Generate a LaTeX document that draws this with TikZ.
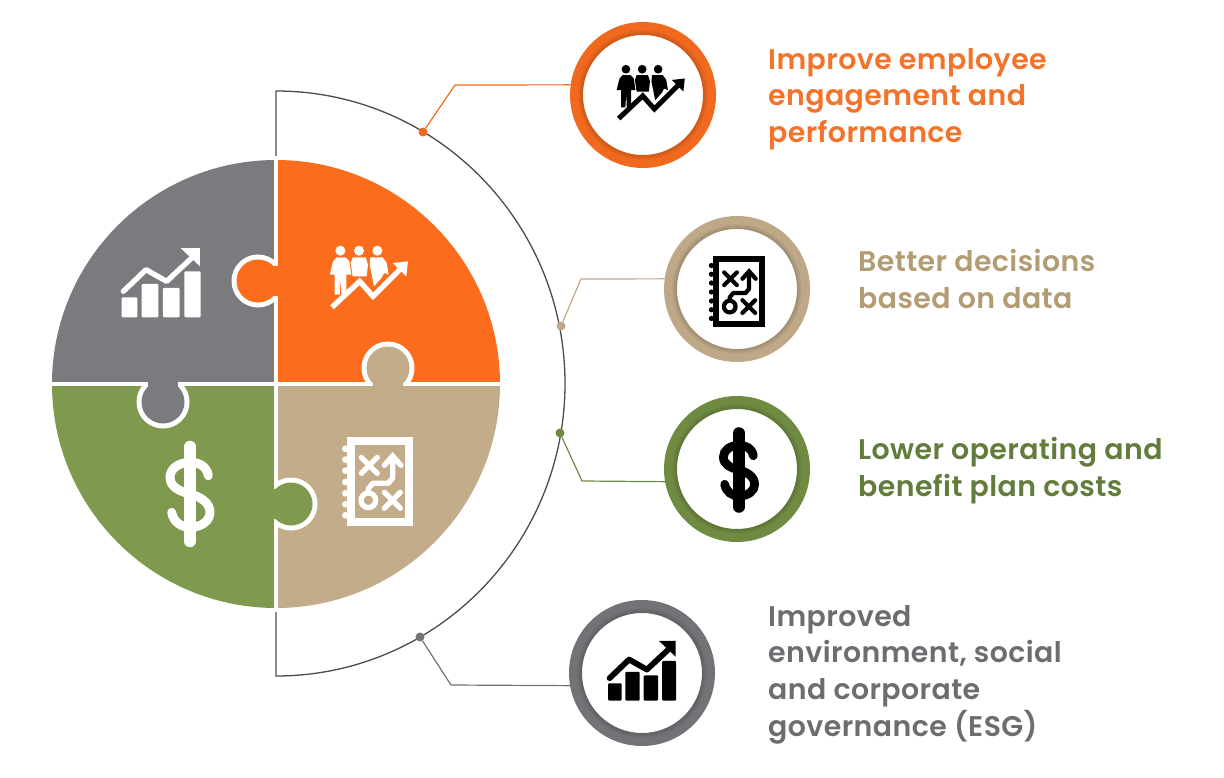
\documentclass[tikz,border=0pt]{standalone}
\usepackage{fontspec}
\setmainfont{Poppins}[LetterSpace=1.5,BoldFont={Poppins SemiBold}]
\usetikzlibrary{positioning}

\definecolor{pieceorange}{HTML}{FB6D1D}
\definecolor{piecetan}{HTML}{C3AC8A}
\definecolor{piecegreen}{HTML}{7F9A4E}
\definecolor{piecegrey}{HTML}{7A7B7F}
\definecolor{ringorange}{HTML}{F1691F}
\definecolor{ringtan}{HTML}{BEA888}
\definecolor{ringgreen}{HTML}{6F8B42}
\definecolor{ringgrey}{HTML}{727376}
\definecolor{textorange}{HTML}{F4732A}
\definecolor{texttan}{HTML}{B29C74}
\definecolor{textgreen}{HTML}{627C3C}
\definecolor{textgrey}{HTML}{6C6D70}

\tikzset{
  ring/.style={circle,draw=#1,fill=white,line width=13pt,inner sep=0pt,minimum size=133pt},
  dot/.style={circle,fill=#1,inner sep=0pt,minimum size=9pt},
  link/.style={line width=1.2pt,line join=round},
  bigicon/.style={x=0.333pt,y=-0.333pt,line width=5.3pt,color=white},
  ringicon/.style={x=#1pt,y=-#1pt,line width=20*#1pt,color=black},
  goal/.style={anchor=north west,align=left,inner sep=0pt,font=\fontsize{28.4}{36.6}\selectfont\bfseries,text=#1},
  pics/chart/.style={code={
    \fill[rounded corners=1pt] (-118,43) rectangle (-71,103);
    \fill[rounded corners=1pt] (-58,3) rectangle (-8,103);
    \fill[rounded corners=1pt] (6,15) rectangle (56,103);
    \fill[rounded corners=1pt] (70,-35) rectangle (119,103);
    \draw[line cap=round,line join=round] (-113,25) -- (-45,-40) -- (17,-5) -- (92,-75);
    \fill (59,-105) -- (117,-105) -- (117,-50) -- cycle;
  }},
  pics/people/.style={code={
    \fill (-83,-82) circle[radius=15];
    \fill (-27,-82) circle[radius=15];
    \fill (28,-82) circle[radius=15];
    \fill (-94,-62) -- (-68,-62) -- (-56,-50) -- (-50,-10) -- (-65,-10) -- (-65,50) -- (-80,50) -- (-82,0)
      -- (-85,50) -- (-100,50) -- (-100,-10) -- (-115,-10) -- (-105,-50) -- cycle;
    \fill (-46,-62) -- (-7,-62) -- (0,-40) -- (-4,-5) -- (-46,-5) -- (-52,-45) -- cycle;
    \fill (7,-62) -- (44,-62) -- (56,-45) -- (62,-10) -- (48,-15) -- (42,-2) -- (18,25) -- (12,-5) -- (5,-40) -- cycle;
    \draw[line cap=butt,line join=miter] (-108,88) -- (-25,10) -- (15,55) -- (100,-30);
    \fill (75,-45) -- (120,-50) -- (115,-5) -- cycle;
  }},
  pics/planmap/.style={code={
    \draw[line width=1.2\pgflinewidth] (-88,-123) rectangle (88,121);
    \foreach \y in {-100,-67,-34,0,34,67,100}
      \fill (-104,\y) circle[radius=10];
    \draw[line cap=round] (-56,-74) -- (-8,-26) (-8,-74) -- (-56,-26);
    \draw[line cap=round] (13,31) -- (61,79) (61,31) -- (13,79);
    \draw (-35,55) circle[radius=22];
    \draw[line join=round] (-35,33) -- (-35,20) -- (-22,4) -- (25,4) -- (38,-12) -- (38,-75);
    \draw[line cap=round,line join=miter] (13,-50) -- (38,-78) -- (63,-50);
  }},
  pics/dollarsign/.style={code={
    \draw[line width=1.3\pgflinewidth,line cap=round] (55,-55) .. controls (50,-85) and (25,-95) .. (0,-95)
      .. controls (-35,-95) and (-60,-75) .. (-60,-50) .. controls (-60,-20) and (-30,-8) .. (0,0)
      .. controls (30,8) and (60,25) .. (60,55) .. controls (60,80) and (35,100) .. (0,100)
      .. controls (-25,100) and (-50,85) .. (-55,55);
    \draw[line width=1.5\pgflinewidth,line cap=round] (0,-142) -- (0,142);
  }},
}

\begin{document}
\begin{tikzpicture}[x=1pt,y=-1pt]
  \useasboundingbox (0,0) rectangle (1224,778);

  % half round behind the puzzle
  \draw[line width=1.3pt,black!70] (276,91) arc[start angle=90,end angle=-90,x radius=289pt,y radius=292.5pt] -- cycle;
  \fill[white] (276,384) circle[radius=228pt];

  % puzzle
  \begin{scope}
    \clip (276,384) circle[radius=224pt];
    \fill[piecegrey] (276,384) rectangle (40,150);
    \fill[pieceorange] (276,384) rectangle (510,150);
    \fill[piecegreen] (276,384) rectangle (40,620);
    \fill[piecetan] (276,384) rectangle (510,620);
    \draw[white,line width=4.5pt] (276,150) -- (276,620) (40,384) -- (510,384);
  \end{scope}

  % tabs, the white edge stays on the host piece
  \begin{scope}
    \clip (200,230) rectangle (277,330);
    \fill[white] (258,281) circle[radius=26.5pt];
  \end{scope}
  \fill[pieceorange] (258,281) circle[radius=21.5pt];
  \fill[pieceorange] (258,266) rectangle (280,296);

  \begin{scope}
    \clip (340,320) rectangle (440,385);
    \fill[white] (388,368) circle[radius=26.5pt];
  \end{scope}
  \fill[piecetan] (388,368) circle[radius=21.5pt];
  \fill[piecetan] (373,368) rectangle (403,388);

  \begin{scope}
    \clip (110,383) rectangle (215,450);
    \fill[white] (163,402) circle[radius=26.5pt];
  \end{scope}
  \fill[piecegrey] (163,402) circle[radius=21.5pt];
  \fill[piecegrey] (148,380) rectangle (178,402);

  \begin{scope}
    \clip (275,450) rectangle (340,560);
    \fill[white] (291,504) circle[radius=26.5pt];
  \end{scope}
  \fill[piecegreen] (291,504) circle[radius=21.5pt];
  \fill[piecegreen] (272,489) rectangle (291,519);

  \coordinate (spotchart) at (161,283);
  \coordinate (spotpeople) at (368,278);
  \coordinate (spotplan) at (380,482);
  \coordinate (spotdollar) at (190,494);
  \pic[bigicon] at (spotchart) {chart};
  \pic[bigicon] at (spotpeople) {people};
  \pic[bigicon] at (spotplan) {planmap};
  \pic[bigicon] at (spotdollar) {dollarsign};

  % rings
  \node[ring=ringorange] (ringa) at (643,95) {};
  \node[ring=ringtan] (ringb) at (737,289) {};
  \node[ring=ringgreen] (ringc) at (737,469) {};
  \node[ring=ringgrey] (ringd) at (642,673) {};

  \foreach \n/\c in {ringa/ringorange,ringb/ringtan,ringc/ringgreen,ringd/ringgrey}
    \foreach \r/\o in {61/0.4,62.5/0.25,64/0.12}
      \draw[\c!65!black,opacity=\o,line width=1.5pt] (\n) circle[radius=\r pt];

  \pic[ringicon=0.29,line width=5pt,xshift=7pt,yshift=2pt] at (ringa) {people};
  \pic[ringicon=0.265,line width=4.2pt,xshift=2pt,yshift=-3pt] at (ringb) {planmap};
  \pic[ringicon=0.26,xshift=2pt,yshift=-1pt] at (ringc) {dollarsign};
  \pic[ringicon=0.287,yshift=2pt] at (ringd) {chart};

  % links
  \node[dot=ringorange] (dota) at (423,132) {};
  \node[dot=ringtan] (dotb) at (561,326) {};
  \node[dot=ringgreen] (dotc) at (560,433) {};
  \node[dot=ringgrey] (dotd) at (420,637) {};
  \coordinate (benda) at (455,85);
  \coordinate (bendb) at (581,279);
  \coordinate (bendc) at (582,481);
  \coordinate (bendd) at (451,685);

  \draw[link,ringorange] (dota) -- (benda) -- (ringa.172);
  \draw[link,ringtan] (dotb) -- (bendb) -- (ringb.172);
  \draw[link,ringgreen] (dotc) -- (bendc) -- (ringc.190);
  \draw[link,ringgrey] (dotd) -- (bendd) -- (ringd.190);

  % labels
  \node[goal=textorange] (txta) at (768,48) {Improve employee\\engagement and\\performance};
  \node[goal=texttan] (txtb) at (858,249) {Better decisions\\based on data};
  \node[goal=textgreen] (txtc) at (858,437) {Lower operating and\\benefit plan costs};
  \node[goal=textgrey] (txtd) at (768,605) {Improved\\environment, social\\and corporate\\governance (ESG)};
\end{tikzpicture}
\end{document}
